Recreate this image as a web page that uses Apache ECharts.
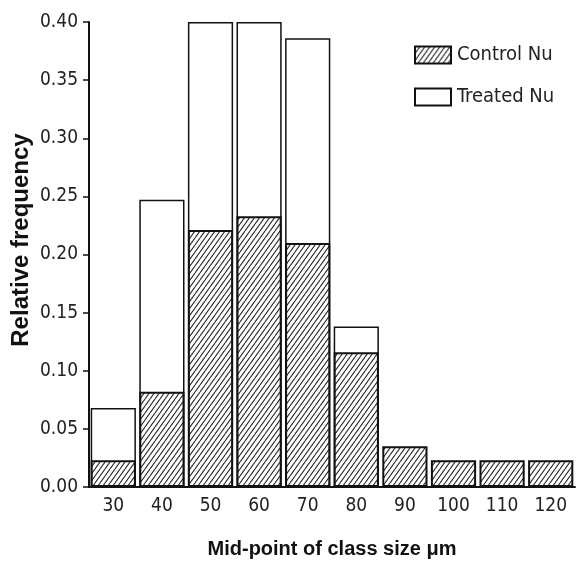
<!DOCTYPE html>
<html><head><meta charset="utf-8">
<script src="https://cdn.jsdelivr.net/npm/echarts@6/dist/echarts.min.js"></script>
<style>html,body{margin:0;padding:0;background:#fff}#c{width:577px;height:569px}</style>
</head><body><div id="c"></div>
<script>
const categories = ['30','40','50','60','70','80','90','100','110','120'];
const controlNu = [0.023, 0.082, 0.221, 0.233, 0.210, 0.116, 0.035, 0.023, 0.023, 0.023];
const treatedNu = [0.068, 0.247, 0.400, 0.400, 0.386, 0.138, 0, 0, 0, 0];
const yTicks = {min: 0, max: 0.40, interval: 0.05};

function hatch(){
  const w = 5, h = 7;
  const c = document.createElement('canvas'); c.width = w; c.height = h;
  const g = c.getContext('2d');
  g.fillStyle = '#fff'; g.fillRect(0,0,w,h);
  g.strokeStyle = '#2a2a2a'; g.lineWidth = 1.1;
  g.beginPath();
  for (const dx of [-w, 0, w]) { g.moveTo(dx, h); g.lineTo(dx + w, 0); }
  g.stroke();
  return c;
}
const font = "'DejaVu Sans Condensed','Liberation Sans',sans-serif";
const boldFont = "'Liberation Sans',Arial,sans-serif";
const chart = echarts.init(document.getElementById('c'), null, {renderer:'canvas'});
chart.setOption({
  backgroundColor: '#fff',
  animation: false,
  grid: {left: 89, right: 2, top: 22, bottom: 82, containLabel: false, outerBoundsMode: 'none'},
  legend: {
    orient: 'vertical', left: 414, top: 45, padding: 0,
    icon: 'rect',
    itemWidth: 36, itemHeight: 17, itemGap: 22,
    data: ['Control Nu', 'Treated Nu'],
    textStyle: {fontFamily: font, fontSize: 20, color: '#222', padding: [0,0,0,1]}
  },
  xAxis: {
    type: 'category', data: categories,
    axisLine: {lineStyle: {color: '#111', width: 2}},
    axisTick: {show: false},
    axisLabel: {fontFamily: font, fontSize: 19, color: '#222', margin: 10},
    name: 'Mid-point of class size \u03bcm', nameLocation: 'middle', nameGap: 52, nameMoveOverlap: false,
    nameTextStyle: {fontFamily: boldFont, fontWeight: 'bold', fontSize: 20, color: '#111'}
  },
  yAxis: {
    type: 'value', min: yTicks.min, max: yTicks.max, interval: yTicks.interval,
    splitLine: {show: false},
    axisLine: {show: true, lineStyle: {color: '#111', width: 2}},
    axisTick: {show: true, length: 6, lineStyle: {color: '#111', width: 1.5}},
    axisLabel: {fontFamily: font, fontSize: 19, color: '#222', margin: 11, formatter: v => v.toFixed(2)},
    name: 'Relative frequency', nameLocation: 'middle', nameGap: 56, nameMoveOverlap: false,
    nameTextStyle: {fontFamily: boldFont, fontWeight: 'bold', fontSize: 24, color: '#111', padding: [0,0,0,29]}
  },
  series: [
    {name: 'Treated Nu', type: 'bar', data: treatedNu, barGap: '-100%', barCategoryGap: '7%', z: 2,
     itemStyle: {color: '#fff', borderColor: '#111', borderWidth: 1.5}},
    {name: 'Control Nu', type: 'bar', data: controlNu, barGap: '-100%', barCategoryGap: '7%', z: 3,
     itemStyle: {color: {image: hatch(), repeat: 'repeat'}, borderColor: '#111', borderWidth: 2}}
  ]
});
</script></body></html>
